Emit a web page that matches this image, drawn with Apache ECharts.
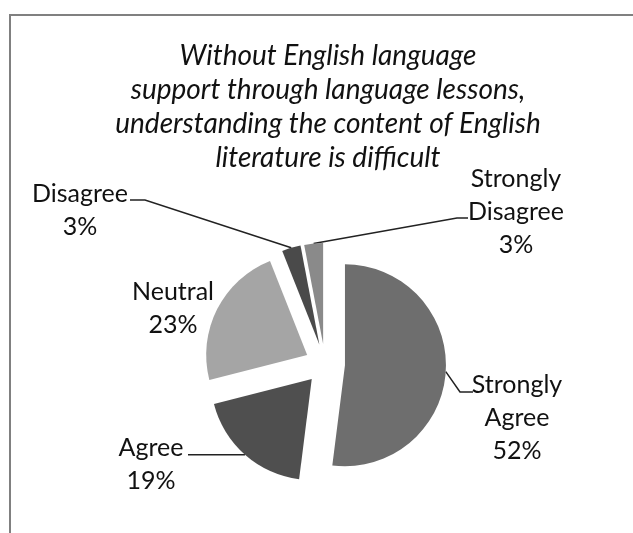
<!DOCTYPE html>
<html>
<head>
<meta charset="utf-8">
<style>html,body{margin:0;padding:0;background:#fff;}#main{width:633px;height:533px;}</style>
<script src="https://cdn.jsdelivr.net/npm/echarts@6/dist/echarts.min.js"></script>
</head>
<body>
<div id="main"></div>
<script>
const titleText = "Without English language\nsupport through language lessons,\nunderstanding the content of English\nliterature is difficult";
const categories = ["Strongly\nAgree", "Agree", "Neutral", "Disagree", "Strongly\nDisagree"];
const values = [52, 19, 23, 3, 3];
const colors = ["#6e6e6e", "#4f4f4f", "#a5a5a5", "#4a4a4a", "#8a8a8a"];

// label layout (pixel positions of label blocks and leader-line bends)
const labelPos = [[517, 418], [151, 464], [173, 308], [80, 210], [516, 212]];
const showLine = [true, true, false, true, true];
const lineBend = [[460, 392], null, null, [145, 200], [457, 218]];
const lineEnd = [[473, 392], [188, null], null, [130, 200], [468, 218]];

const CENTER = [325, 364];
const R = 101;
const EXPLODE = 20;

const chart = echarts.init(document.getElementById('main'), null, {renderer: 'canvas'});
chart.setOption({
  animation: false,
  backgroundColor: '#ffffff',
  title: {
    text: titleText,
    left: 323, top: 34, textAlign: 'center',
    textStyle: {fontFamily: 'Lato', fontStyle: 'italic', fontWeight: 'normal', fontSize: 28, lineHeight: 34, color: '#111'}
  },
  graphic: [{
    type: 'rect', silent: true,
    shape: {x: 10, y: 15, width: 700, height: 600},
    style: {fill: 'none', stroke: '#808080', lineWidth: 2}
  }],
  series: [{
    type: 'pie',
    center: CENTER,
    radius: [0, R],
    startAngle: 90,
    clockwise: true,
    selectedMode: 'multiple',
    selectedOffset: EXPLODE,
    silent: true,
    emphasis: {disabled: true},
    label: {show: false},
    labelLine: {show: false},
    data: categories.map((c, i) => ({
      name: c, value: values[i], selected: true,
      itemStyle: {color: colors[i]}
    }))
  }, {
    type: 'pie',
    center: CENTER,
    radius: [0, R + EXPLODE],
    startAngle: 90,
    clockwise: true,
    silent: true,
    z: 1,
    avoidLabelOverlap: false,
    emphasis: {disabled: true},
    itemStyle: {color: 'rgba(0,0,0,0)'},
    label: {
      show: true,
      formatter: p => p.name + '\n' + p.value + '%',
      fontFamily: 'Lato', fontSize: 25, lineHeight: 33, color: '#111', align: 'center'
    },
    labelLine: {show: true, length: 15, length2: 15, lineStyle: {color: '#222', width: 1.5}},
    labelLayout: function (params) {
      const i = params.dataIndex;
      const p = labelPos[i];
      const out = {x: p[0], y: p[1], align: 'center', verticalAlign: 'middle'};
      const pts = params.labelLinePoints;
      if (showLine[i] && pts && pts.length) {
        const start = pts[0];
        const end = [lineEnd[i][0], lineEnd[i][1] == null ? start[1] : lineEnd[i][1]];
        const bend = lineBend[i] ? lineBend[i] : end;
        out.labelLinePoints = [start.slice(), bend, end];
      }
      return out;
    },
    data: categories.map((c, i) => ({
      name: c, value: values[i],
      labelLine: {show: showLine[i]}
    }))
  }]
});
</script>
</body>
</html>
